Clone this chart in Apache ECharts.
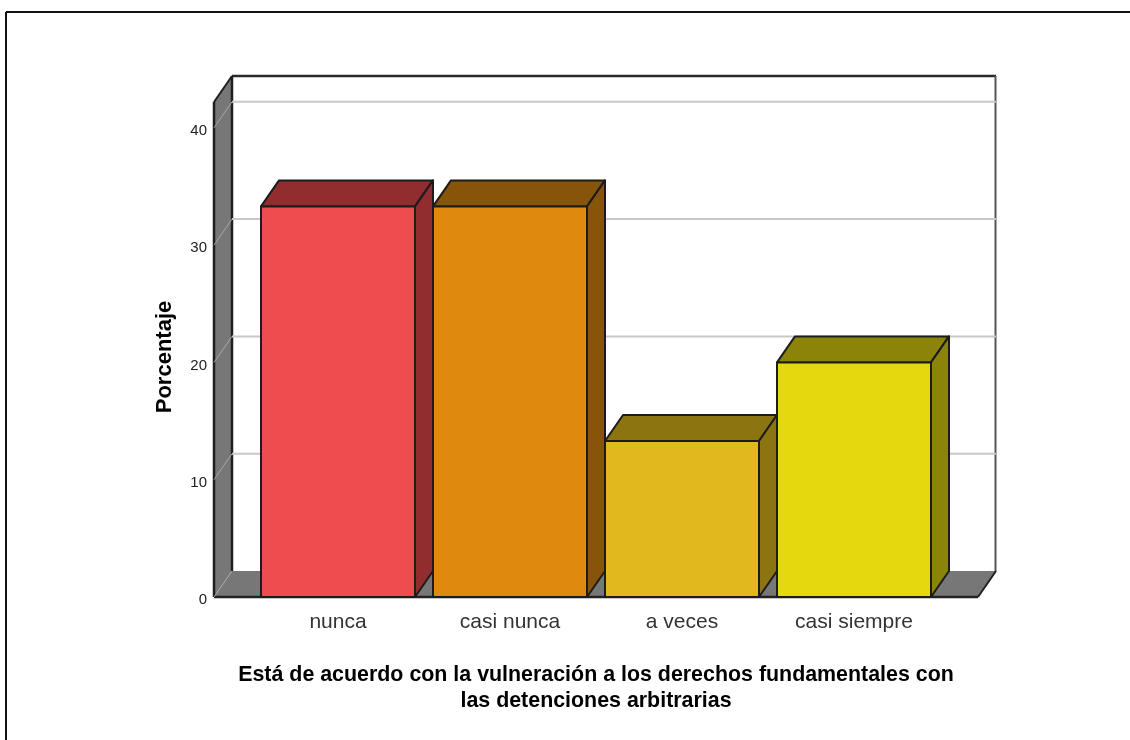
<!DOCTYPE html>
<html><head><meta charset="utf-8">
<style>html,body{margin:0;padding:0;background:#fff}#c{width:1130px;height:740px}</style>
<script src="https://cdn.jsdelivr.net/npm/echarts@6/dist/echarts.min.js"></script>
</head><body><div id="c"></div>
<script>
const categories = ['nunca', 'casi nunca', 'a veces', 'casi siempre'];
const values = [33.3, 33.3, 13.3, 20.0];
const frontColors = ['#ee4c4e', '#e0890f', '#e1b81e', '#e4d80e'];
const sideColors = ['#922d2f', '#87550a', '#8c7410', '#8c8408'];
const gridValues = [0, 10, 20, 30, 40];
const axisMax = 42.2;
const xTitle = 'Está de acuerdo con la vulneración a los derechos fundamentales con\nlas detenciones arbitrarias';
const yTitle = 'Porcentaje';

const DX = 18, DY = -26, PAD = 38, BAR = 154;
const FONT = '"Liberation Sans", Arial, sans-serif';
const chart = echarts.init(document.getElementById('c'), null, {renderer: 'canvas'});

function poly(points, fill, stroke, lw) {
  return {type: 'polygon', shape: {points}, style: {fill, stroke: stroke || null, lineWidth: lw || 0, lineJoin: 'round'}};
}
function line(x1, y1, x2, y2, stroke, lw) {
  return {type: 'line', shape: {x1, y1, x2, y2}, style: {stroke, lineWidth: lw}};
}

function renderShell(params, api) {
  const c = params.coordSys;
  const l = c.x - PAD, r = c.x + c.width + PAD, t = c.y, b = c.y + c.height;
  return {type: 'group', children: [
    poly([[l, t], [l + DX, t + DY], [l + DX, b + DY], [l, b]], '#777777'),
    poly([[l, b], [l + DX, b + DY], [r + DX, b + DY], [r, b]], '#777777'),
    line(l + DX, t + DY, r + DX, t + DY, '#2a2a2a', 2.5),
    line(r + DX - 0.5, t + DY, r + DX - 0.5, b + DY, '#555555', 2),
    line(l + DX, t + DY, l + DX, b + DY, '#1e1e1e', 2.5),
    line(l, t, l, b, '#1e1e1e', 2.5),
    line(l, t, l + DX, t + DY, '#1e1e1e', 2),
    line(l, b, r, b, '#222222', 2.5),
    line(r, b, r + DX, b + DY, '#222222', 2)
  ]};
}
function renderGrid(params, api) {
  const c = params.coordSys;
  const l = c.x - PAD, r = c.x + c.width + PAD;
  const y = api.coord([0, api.value(0)])[1];
  const kids = [line(l, y, l + DX, y + DY, '#a8a8a8', 1)];
  if (api.value(0) > 0) kids.push(line(l + DX, y + DY, r + DX, y + DY, '#c8c8c8', 2));
  return {type: 'group', children: kids};
}
function renderBar(params, api) {
  const i = api.value(0), v = api.value(1);
  const top = api.coord([i, v]), base = api.coord([i, 0]);
  const x0 = top[0] - BAR / 2, x1 = top[0] + BAR / 2, yT = top[1], yB = base[1];
  const s = '#1c1c1c', w = 2;
  return {type: 'group', children: [
    poly([[x0, yT], [x0 + DX, yT + DY], [x1 + DX, yT + DY], [x1, yT]], sideColors[i], s, w),
    poly([[x1, yT], [x1 + DX, yT + DY], [x1 + DX, yB + DY], [x1, yB]], sideColors[i], s, w),
    poly([[x0, yT], [x1, yT], [x1, yB], [x0, yB]], frontColors[i], s, w)
  ]};
}

chart.setOption({
  animation: false,
  backgroundColor: '#fff',
  grid: {left: 252, width: 688, top: 102, height: 495, containLabel: false},
  xAxis: {
    type: 'category', data: categories,
    axisLine: {show: false}, axisTick: {show: false},
    axisLabel: {color: '#333', fontFamily: FONT, fontSize: 21, margin: 15, interval: 0},
    name: xTitle, nameLocation: 'middle', nameGap: 65,
    nameTextStyle: {color: '#000', fontFamily: FONT, fontWeight: 'bold', fontSize: 21.4, lineHeight: 26}
  },
  yAxis: {
    type: 'value', min: 0, max: axisMax, interval: 10, offset: 38,
    splitLine: {show: false}, axisLine: {show: false}, axisTick: {show: false},
    axisLabel: {color: '#222', fontFamily: FONT, fontSize: 15, margin: 7, showMaxLabel: false, verticalAlign: 'top', lineHeight: 6},
    name: yTitle, nameLocation: 'middle', nameRotate: 90, nameGap: 38,
    nameTextStyle: {color: '#000', fontFamily: FONT, fontWeight: 'bold', fontSize: 22, padding: [0, 15, 0, 0]}
  },
  graphic: [
    {type: 'line', silent: true, shape: {x1: 6, y1: 12, x2: 1130, y2: 12}, style: {stroke: '#111', lineWidth: 2}},
    {type: 'line', silent: true, shape: {x1: 6, y1: 12, x2: 6, y2: 740}, style: {stroke: '#111', lineWidth: 2}}
  ],
  series: [
    {type: 'custom', name: 'shell', coordinateSystem: 'cartesian2d', data: [[0, 0]], renderItem: renderShell, clip: false, silent: true, z: 1},
    {type: 'custom', name: 'grid', coordinateSystem: 'cartesian2d', encode: {y: 0}, data: gridValues.map(v => [v]), renderItem: renderGrid, clip: false, silent: true, z: 2},
    {type: 'custom', name: 'Porcentaje', coordinateSystem: 'cartesian2d', encode: {x: 0, y: 1},
      data: values.map((v, i) => [i, v]), renderItem: renderBar, clip: false, z: 3}
  ]
});
</script></body></html>
